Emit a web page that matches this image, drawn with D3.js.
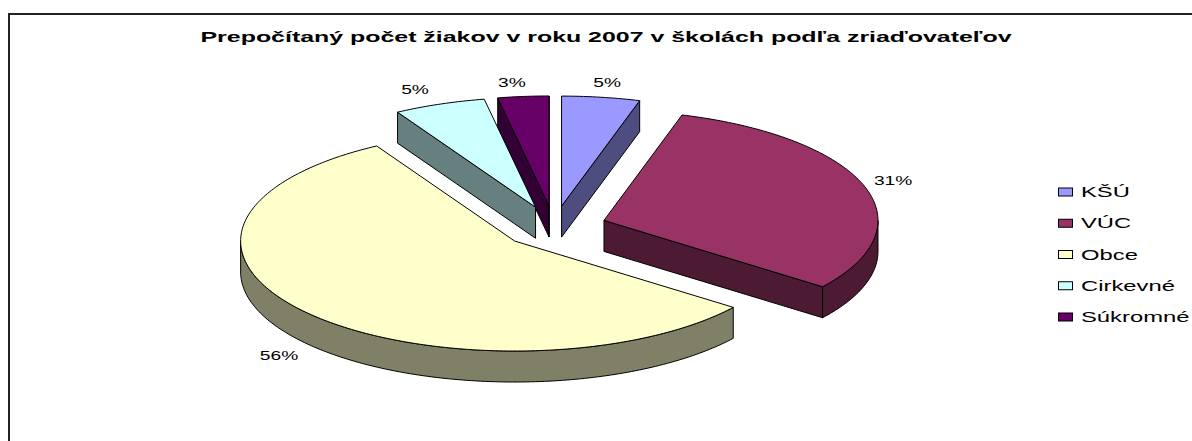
<!DOCTYPE html>
<html>
<head>
<meta charset="utf-8">
<script src="https://cdn.jsdelivr.net/npm/d3@7"></script>
<style>
  html, body { margin: 0; padding: 0; background: #fff; }
  text { font-family: "Liberation Sans", Arial, sans-serif; fill: #000; }
</style>
</head>
<body>
<div id="chart"></div>
<script>
// data
var title = "Prepočítaný počet žiakov v roku 2007 v školách podľa zriaďovateľov";
var categories = ["KŠÚ", "VÚC", "Obce", "Cirkevné", "Súkromné"];
var shares = [4.6, 30.7, 56.3, 5.4, 3.0];
var colors = ["#9999FF", "#993366", "#FFFFCC", "#CCFFFF", "#660066"];

var width = 1192, height = 441;
var cx = 554, cy = 227, rx = 274, ry = 110;
var depth = 31;
var explode = 0.192;

// flat circle -> squashed ellipse
var xScale = d3.scaleLinear().domain([-1, 1]).range([cx - rx, cx + rx]);
var yScale = d3.scaleLinear().domain([-1, 1]).range([cy + ry, cy - ry]);

var total = d3.sum(shares);
var pct = d3.format(".0%");
var slices = d3.pie().sort(null)(shares);

var svg = d3.select("#chart").append("svg")
  .attr("width", width)
  .attr("height", height)
  .style("display", "block");

// outer frame, only left and top are in the crop
svg.append("path")
  .attr("d", "M9,441V14H1192")
  .attr("fill", "none")
  .attr("stroke", "#222")
  .attr("stroke-width", 2);

var line = d3.line().x(function(p) { return p[0]; }).y(function(p) { return p[1]; });

function point(d, angle, r, drop) {
  var mid = (d.startAngle + d.endAngle) / 2;
  return [
    xScale(explode * Math.sin(mid) + r * Math.sin(angle)),
    yScale(explode * Math.cos(mid) + r * Math.cos(angle)) + (drop || 0)
  ];
}

function arcPoints(d, a0, a1, drop) {
  var n = Math.max(2, Math.ceil((a1 - a0) * 60));
  return d3.range(n + 1).map(function(i) {
    return point(d, a0 + (a1 - a0) * i / n, 1, drop);
  });
}

function cutWall(d, angle) {
  return line([point(d, 0, 0), point(d, angle, 1), point(d, angle, 1, depth), point(d, 0, 0, depth)]) + "Z";
}

// back to front: the slices lying furthest up the page first
var drawOrder = [4, 3, 0, 1, 2];

drawOrder.forEach(function(i) {
  var d = slices[i];
  var c = d3.rgb(colors[i]);
  var wall = d3.rgb(c.r / 2, c.g / 2, c.b / 2);
  var g = svg.append("g").attr("stroke", "#000").attr("stroke-width", 1).attr("stroke-linejoin", "round");

  // cut faces only show when they turn towards the viewer
  if (Math.sin(d.startAngle) < 0) g.append("path").attr("d", cutWall(d, d.startAngle)).attr("fill", wall);
  if (Math.sin(d.endAngle) > 0) g.append("path").attr("d", cutWall(d, d.endAngle)).attr("fill", wall);

  // rim, only the part facing the viewer
  var a0 = Math.max(d.startAngle, Math.PI / 2);
  var a1 = Math.min(d.endAngle, Math.PI * 1.5);
  if (a1 > a0) {
    var rim = arcPoints(d, a0, a1, 0).concat(arcPoints(d, a0, a1, depth).reverse());
    g.append("path").attr("d", line(rim) + "Z").attr("fill", wall);
  }

  var top = [point(d, 0, 0)].concat(arcPoints(d, d.startAngle, d.endAngle, 0));
  g.append("path").attr("d", line(top) + "Z").attr("fill", colors[i]);
});

// stretched text, as in the original export
function stretched(x, y, str, size, sx, anchor, weight) {
  return svg.append("text")
    .attr("transform", "translate(" + x + "," + y + ") scale(" + sx + ",1)")
    .attr("text-anchor", anchor || "start")
    .attr("font-size", size)
    .attr("font-weight", weight || "normal")
    .text(str);
}

stretched(606, 42, title, 14, 1.78, "middle", "bold");

// nudges from the spot just outside each slice's rim
var labelNudgeX = [1, -5, -4, -12, -8];
var labelNudgeY = [-1, -2, 31, -2, 0];
slices.forEach(function(d, i) {
  var mid = (d.startAngle + d.endAngle) / 2;
  var p = point(d, mid, 1.13);
  stretched(p[0] + labelNudgeX[i], p[1] + 5 + labelNudgeY[i], pct(d.value / total), 12, 1.6, "middle");
});

var legendY = d3.scalePoint().domain(categories).range([192, 317]);
categories.forEach(function(c, i) {
  svg.append("rect")
    .attr("x", 1058.5).attr("y", legendY(c) - 4)
    .attr("width", 14).attr("height", 8)
    .attr("fill", colors[i]).attr("stroke", "#000");
  stretched(1081, legendY(c) + 5, c, 14, 1.7);
});
</script>
</body>
</html>
